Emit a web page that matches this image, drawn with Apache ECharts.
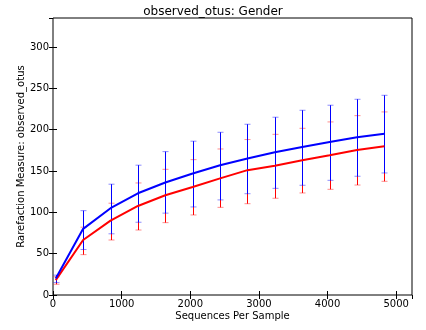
<!DOCTYPE html>
<html>
<head>
<meta charset="utf-8">
<script src="https://cdn.jsdelivr.net/npm/echarts@6/dist/echarts.min.js"></script>
<style>
  html, body { margin: 0; padding: 0; background: #fff; }
  #chart { width: 426px; height: 330px; }
</style>
</head>
<body>
<div id="chart"></div>
<script>
// rarefaction depths
var depths = [40, 439, 838, 1237, 1636, 2035, 2434, 2833, 3232, 3631, 4030, 4429, 4828];

// mean observed otus per group
var blueMean = [20, 80, 105, 123, 136, 147, 157, 165, 172.6, 179, 185, 190.8, 195];
var redMean = [18, 66.5, 90, 107.7, 120.6, 130.6, 141, 151, 156.4, 163, 169, 175.4, 180];

// error bar ends
var blueLow = [15, 55, 74, 88, 99, 106.5, 115, 122.5, 129, 132.7, 138.7, 143.6, 147.6];
var blueHigh = [24, 102, 134, 157, 173.4, 186, 196.8, 206.5, 215, 223.4, 229.5, 236.7, 241.5];
var redLow = [13, 48.8, 66.5, 78.6, 87.5, 96.8, 106, 110.4, 117, 123.4, 127.8, 133, 137.5];
var redHigh = [22, 82, 111, 135.5, 152, 163.7, 176.6, 188, 194.3, 201.6, 209.3, 216.9, 221.4];

var xTicks = [0, 1000, 2000, 3000, 4000, 5000];
var yTicks = [0, 50, 100, 150, 200, 250, 300];

var chart = echarts.init(document.getElementById('chart'));

function pairs(xs, ys) {
    return xs.map(function (x, i) { return [x, ys[i]]; });
}

function errData(lo, hi) {
    return depths.map(function (x, i) { return [x, lo[i], hi[i]]; });
}

function errRender(color) {
    return function (params, api) {
        var top = api.coord([api.value(0), api.value(2)]);
        var bot = api.coord([api.value(0), api.value(1)]);
        var x = Math.round(top[0]) + 0.5;
        var w = 3;
        return {
            type: 'group',
            children: [
                { type: 'line', shape: { x1: x, y1: top[1], x2: x, y2: bot[1] },
                  style: { stroke: color, lineWidth: 1 } },
                { type: 'line', shape: { x1: x - w, y1: top[1], x2: x + w, y2: top[1] },
                  style: { stroke: color, lineWidth: 1, opacity: 0.45 } },
                { type: 'line', shape: { x1: x - w, y1: bot[1], x2: x + w, y2: bot[1] },
                  style: { stroke: color, lineWidth: 1, opacity: 0.45 } }
            ]
        };
    };
}

var font = 'DejaVu Sans';
var tickStyle = { inside: true, length: 4, lineStyle: { color: '#000' } };

chart.setOption({
    animation: false,
    title: {
        text: 'observed_otus: Gender',
        left: 'center',
        top: 1,
        textStyle: { fontFamily: font, fontSize: 12, fontWeight: 'normal', color: '#000' }
    },
    grid: {
        left: 53, right: 14, top: 18, bottom: 35,
        show: true, borderColor: '#000', borderWidth: 1, backgroundColor: 'transparent'
    },
    xAxis: [{
        type: 'value',
        min: 0, max: 5230, interval: 1000,
        name: 'Sequences Per Sample',
        nameLocation: 'middle',
        nameGap: 16,
        nameMoveOverlap: false,
        nameTextStyle: { fontFamily: font, fontSize: 10, color: '#000' },
        axisLine: { show: false },
        axisTick: tickStyle,
        splitLine: { show: false },
        axisLabel: {
            fontFamily: font, fontSize: 10, color: '#000', margin: 4,
            showMaxLabel: false,
            formatter: function (v) { return xTicks.indexOf(v) >= 0 ? String(v) : ''; }
        }
    }, {
        type: 'value',
        position: 'top',
        min: 0, max: 5230, interval: 1000,
        axisLine: { show: false },
        axisTick: tickStyle,
        splitLine: { show: false },
        axisLabel: { show: false }
    }],
    yAxis: [{
        type: 'value',
        min: 0, max: 335, interval: 50,
        name: 'Rarefaction Measure: observed_otus',
        nameLocation: 'middle',
        nameGap: 27,
        nameMoveOverlap: false,
        nameTextStyle: { fontFamily: font, fontSize: 10, color: '#000' },
        axisLine: { show: false },
        axisTick: tickStyle,
        splitLine: { show: false },
        axisLabel: {
            fontFamily: font, fontSize: 10, color: '#000', margin: 4,
            showMaxLabel: false,
            formatter: function (v) { return yTicks.indexOf(v) >= 0 ? String(v) : ''; }
        }
    }, {
        type: 'value',
        position: 'right',
        min: 0, max: 335, interval: 50,
        axisLine: { show: false },
        axisTick: tickStyle,
        splitLine: { show: false },
        axisLabel: { show: false }
    }],
    series: [
        {
            type: 'custom',
            name: 'red err',
            data: errData(redLow, redHigh),
            renderItem: errRender('#ff0000'),
            encode: { x: 0, y: [1, 2] },
            z: 2
        },
        {
            type: 'custom',
            name: 'blue err',
            data: errData(blueLow, blueHigh),
            renderItem: errRender('#0000ff'),
            encode: { x: 0, y: [1, 2] },
            z: 3
        },
        {
            type: 'line',
            data: pairs(depths, redMean),
            showSymbol: false,
            lineStyle: { color: '#ff0000', width: 2 },
            z: 4
        },
        {
            type: 'line',
            data: pairs(depths, blueMean),
            showSymbol: false,
            lineStyle: { color: '#0000ff', width: 2 },
            z: 5
        }
    ]
});
</script>
</body>
</html>
